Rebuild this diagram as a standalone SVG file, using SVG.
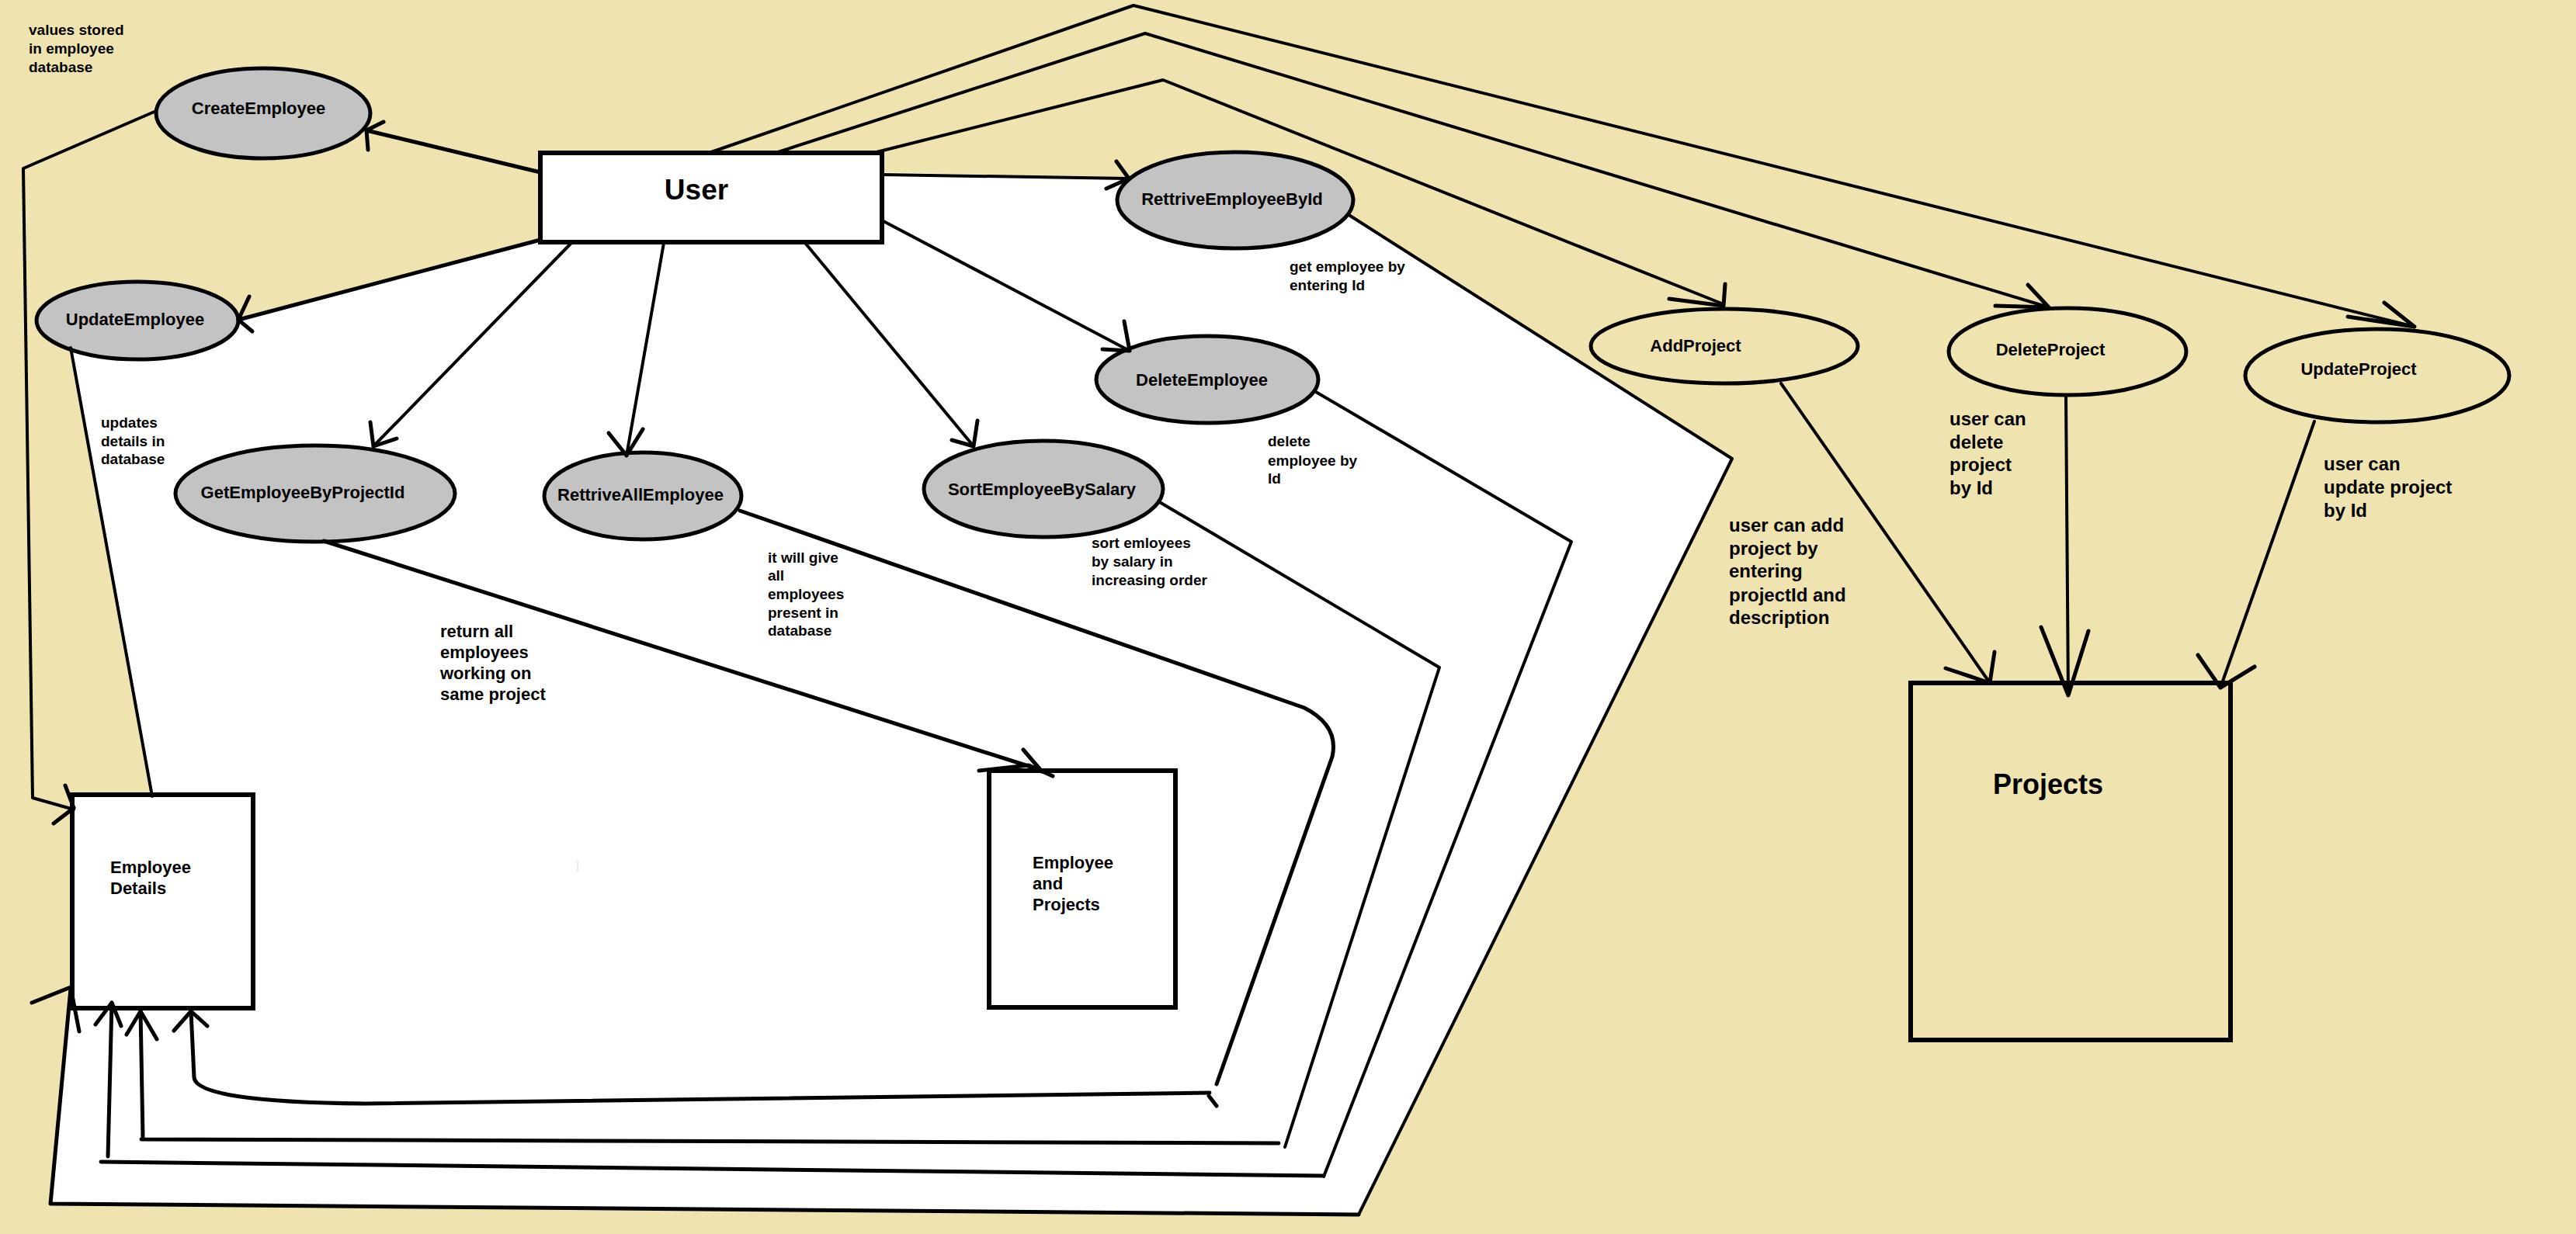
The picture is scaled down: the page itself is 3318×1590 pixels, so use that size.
<svg xmlns="http://www.w3.org/2000/svg" width="3318" height="1590" viewBox="0 0 3318 1590">
  <style>
    .bg { fill: #EFE4B0; }
    .sheet { fill: #FFFFFF; stroke: none; }
    .uc { fill: #C3C3C3; stroke: #000; stroke-width: 5; }
    .pc { fill: none; stroke: #000; stroke-width: 5; }
    .box { fill: #FFFFFF; stroke: #000; stroke-width: 6; }
    .pbox { fill: none; stroke: #000; stroke-width: 6; }
    .ln { fill: none; stroke: #000; stroke-width: 5; stroke-linecap: round; stroke-linejoin: round; }
    .thin { stroke-width: 4; }
    .head { fill: none; stroke: #000; stroke-width: 5; stroke-linecap: round; stroke-linejoin: round; }
    text { font-family: "Liberation Sans", Arial, sans-serif; font-weight: bold; fill: #000; }
    .lbl { font-size: 22px; text-anchor: middle; }
    .note { font-size: 19px; }
    .note2 { font-size: 22px; }
    .note3 { font-size: 24px; }
  </style>

  <rect class="bg" x="0" y="0" width="3318" height="1590"/>

  <!-- white area enclosed by the employee flows -->
  <path class="sheet" d="M1136,222 L1452,229 L1591,322 L1739,278 L2231,591 L1750,1565 L65,1551 L91,1274 L93,1024 L196,1026 L91,448 L306,412 L696,309 L696,222 Z"/>

  <!-- nodes -->
  <g id="user">
    <rect class="box" x="696" y="197" width="440" height="115"/>
    <text x="897" y="257" font-size="37" text-anchor="middle">User</text>
  </g>
  <g id="create-employee">
    <ellipse class="uc" cx="339" cy="146" rx="138" ry="58"/>
    <text class="lbl" x="333" y="147">CreateEmployee</text>
  </g>
  <g id="update-employee">
    <ellipse class="uc" cx="177" cy="413" rx="130" ry="50"/>
    <text class="lbl" x="174" y="419">UpdateEmployee</text>
  </g>
  <g id="retrieve-employee-by-id">
    <ellipse class="uc" cx="1591" cy="258" rx="152" ry="62"/>
    <text class="lbl" x="1587" y="264">RettriveEmployeeById</text>
  </g>
  <g id="delete-employee">
    <ellipse class="uc" cx="1555" cy="489" rx="143" ry="56"/>
    <text class="lbl" x="1548" y="497">DeleteEmployee</text>
  </g>
  <g id="get-employee-by-project-id">
    <ellipse class="uc" cx="406" cy="636" rx="180" ry="62"/>
    <text class="lbl" x="390" y="642">GetEmployeeByProjectId</text>
  </g>
  <g id="retrieve-all-employee">
    <ellipse class="uc" cx="828" cy="639" rx="127" ry="56"/>
    <text class="lbl" x="825" y="645">RettriveAllEmployee</text>
  </g>
  <g id="sort-employee-by-salary">
    <ellipse class="uc" cx="1344" cy="630" rx="154" ry="62"/>
    <text class="lbl" x="1342" y="638">SortEmployeeBySalary</text>
  </g>
  <g id="add-project">
    <ellipse class="pc" cx="2221" cy="446" rx="172" ry="48"/>
    <text class="lbl" x="2184" y="453" font-size="24">AddProject</text>
  </g>
  <g id="delete-project">
    <ellipse class="pc" cx="2663" cy="453" rx="153" ry="56"/>
    <text class="lbl" x="2641" y="458" font-size="24">DeleteProject</text>
  </g>
  <g id="update-project">
    <ellipse class="pc" cx="3062" cy="484" rx="170" ry="60"/>
    <text class="lbl" x="3038" y="483" font-size="24">UpdateProject</text>
  </g>
  <g id="employee-details">
    <rect class="box" x="93" y="1024" width="233" height="275"/>
    <text class="note2" x="142" y="1125">Employee</text>
    <text class="note2" x="142" y="1152">Details</text>
  </g>
  <g id="employee-and-projects">
    <rect class="box" x="1274" y="993" width="240" height="305"/>
    <text class="note2" x="1330" y="1119">Employee</text>
    <text class="note2" x="1330" y="1146">and</text>
    <text class="note2" x="1330" y="1173">Projects</text>
  </g>
  <g id="projects">
    <rect class="pbox" x="2461" y="880" width="412" height="460"/>
    <text x="2638" y="1023" font-size="36" text-anchor="middle">Projects</text>
  </g>

  <!-- connectors -->
  <g id="connectors">
    <!-- user to employee use cases -->
    <path class="ln" d="M696,222 L472,168"/>
    <path class="head" d="M494,157 L472,168 L474,193"/>
    <path class="ln" d="M696,309 L307,412"/>
    <path class="head" d="M321,382 L307,412 L325,427"/>
    <path class="ln thin" d="M1136,225 L1452,230"/>
    <path class="head" d="M1438,208 L1454,230 L1425,243"/>
    <path class="ln thin" d="M1136,284 L1455,452"/>
    <path class="head" d="M1448,414 L1455,452 L1420,450"/>
    <path class="ln thin" d="M736,313 L481,575"/>
    <path class="head" d="M477,544 L481,575 L511,565"/>
    <path class="ln thin" d="M855,313 L807,587"/>
    <path class="head" d="M784,558 L807,587 L828,553"/>
    <path class="ln thin" d="M1037,313 L1254,575"/>
    <path class="head" d="M1259,542 L1254,575 L1226,567"/>

    <!-- user to project use cases -->
    <path class="ln thin" d="M916,196 L1460,7 L3110,421"/>
    <path class="head" d="M3024,408 L3110,421 L3071,390"/>
    <path class="ln thin" d="M1002,196 L1475,43 L2639,396"/>
    <path class="head" d="M2570,394 L2639,396 L2612,367"/>
    <path class="ln thin" d="M1129,196 L1498,103 L2220,392"/>
    <path class="head" d="M2150,385 L2220,394 L2222,366"/>

    <!-- project use cases to Projects -->
    <path class="ln thin" d="M2294,494 L2563,880"/>
    <path class="head" d="M2506,861 L2563,880 L2569,840"/>
    <path class="ln thin" d="M2661,509 L2664,896"/>
    <path class="head" d="M2629,808 L2664,896 L2690,813"/>
    <path class="ln thin" d="M2981,543 L2860,886"/>
    <path class="head" d="M2831,844 L2860,886 L2904,859"/>

    <!-- create / update into Employee Details -->
    <path class="ln thin" d="M201,143 L30,217 L42,1028 L95,1043"/>
    <path class="head" d="M84,1012 L95,1041 L69,1061"/>
    <path class="ln thin" d="M91,448 L196,1026"/>

    <!-- employees by project into Employee and Projects -->
    <path class="ln" d="M417,697 L1340,992"/>
    <path class="head" d="M1318,966 L1342,994 M1261,993 L1325,986 L1356,1000"/>

    <!-- results returned into Employee Details -->
    <path class="ln" d="M953,658 L1680,912 Q1725,935 1716,975 L1567,1397 M1557,1412 L1567,1425"/>
    <path class="ln" d="M1558,1408 L470,1422 Q252,1420 250,1388 L246,1303"/>
    <path class="head" d="M224,1328 L246,1303 L267,1322"/>

    <path class="ln thin" d="M1492,646 L1854,860 L1655,1478"/>
    <path class="ln" d="M1647,1473 L182,1468 M184,1466 L181,1303"/>
    <path class="head" d="M163,1333 L181,1303 L202,1339"/>

    <path class="ln thin" d="M1695,505 L2024,698 L1705,1516"/>
    <path class="ln" d="M1705,1515 L130,1497 M139,1490 L144,1292"/>
    <path class="head" d="M123,1320 L144,1292 L156,1322"/>

    <path class="ln thin" d="M1739,278 L2231,591 L1750,1565"/>
    <path class="ln" d="M1750,1565 L65,1551 L91,1274"/>
    <path class="head" d="M41,1292 L91,1272 L102,1329"/>
  </g>

  <!-- stray pencil mark -->
  <line x1="744" y1="1109" x2="744" y2="1124" stroke="#D8D8D8" stroke-width="1"/>

  <!-- annotations -->
  <g id="notes">
    <text class="note" x="37" y="45">values stored</text>
    <text class="note" x="37" y="69">in employee</text>
    <text class="note" x="37" y="93">database</text>

    <text class="note" x="130" y="551">updates</text>
    <text class="note" x="130" y="575">details in</text>
    <text class="note" x="130" y="598">database</text>

    <text class="note" x="1661" y="350">get employee by</text>
    <text class="note" x="1661" y="374">entering Id</text>

    <text class="note" x="1633" y="575">delete</text>
    <text class="note" x="1633" y="600">employee by</text>
    <text class="note" x="1633" y="623">Id</text>

    <text class="note" x="1406" y="706">sort emloyees</text>
    <text class="note" x="1406" y="730">by salary in</text>
    <text class="note" x="1406" y="754">increasing order</text>

    <text class="note" x="989" y="725">it will give</text>
    <text class="note" x="989" y="748">all</text>
    <text class="note" x="989" y="772">employees</text>
    <text class="note" x="989" y="796">present in</text>
    <text class="note" x="989" y="819">database</text>

    <text class="note2" x="567" y="821">return all</text>
    <text class="note2" x="567" y="848">employees</text>
    <text class="note2" x="567" y="875">working on</text>
    <text class="note2" x="567" y="902">same project</text>

    <text class="note3" x="2227" y="685">user can add</text>
    <text class="note3" x="2227" y="715">project by</text>
    <text class="note3" x="2227" y="744">entering</text>
    <text class="note3" x="2227" y="775">projectId and</text>
    <text class="note3" x="2227" y="804">description</text>

    <text class="note3" x="2511" y="548">user can</text>
    <text class="note3" x="2511" y="578">delete</text>
    <text class="note3" x="2511" y="607">project</text>
    <text class="note3" x="2511" y="637">by Id</text>

    <text class="note3" x="2993" y="606">user can</text>
    <text class="note3" x="2993" y="636">update project</text>
    <text class="note3" x="2993" y="666">by Id</text>
  </g>
</svg>
